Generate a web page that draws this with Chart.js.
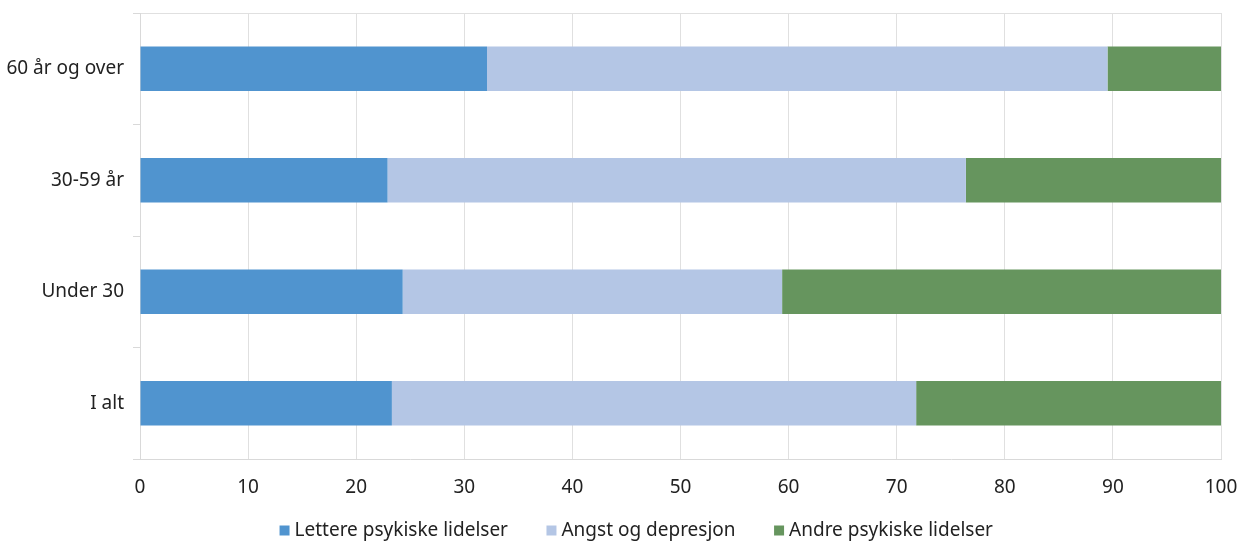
<!DOCTYPE html>
<html>
<head>
<meta charset="utf-8">
<script src="https://cdn.jsdelivr.net/npm/chart.js@4.4.1/dist/chart.umd.min.js"></script>
<style>
  html, body { margin: 0; padding: 0; background: #ffffff; }
  #wrap { width: 1239px; height: 543px; }
</style>
</head>
<body>
<div id="wrap"><canvas id="c" width="1239" height="543"></canvas></div>
<script>
const categories = ['60 år og over', '30-59 år', 'Under 30', 'I alt'];
const seriesNames = ['Lettere psykiske lidelser', 'Angst og depresjon', 'Andre psykiske lidelser'];
const lettere = [32.1, 22.9, 24.3, 23.3];
const angst = [57.4, 53.5, 35.1, 48.5];
const andre = [10.5, 23.6, 40.6, 28.2];
const xTicks = [0, 10, 20, 30, 40, 50, 60, 70, 80, 90, 100];

const colors = ['#5094cf', '#b4c6e5', '#66955e'];
const FONT = 'Noto Sans';

const LEGEND_H = 40;
const LEGEND_SHIFT = 19;
const LEGEND_TOP = 478;

const legendTweak = {
  id: 'legendTweak',
  beforeLayout(chart) {
    const lg = chart.legend;
    if (lg && !lg._tweaked) {
      lg._tweaked = true;
      const origFit = lg.fit;
      lg.fit = function () { origFit.call(this); this.height = LEGEND_H; };
    }
  },
  afterLayout(chart) {
    const lg = chart.legend;
    if (lg) {
      lg.left += LEGEND_SHIFT; lg.right += LEGEND_SHIFT;
      lg.top = LEGEND_TOP; lg.bottom = chart.height;
    }
  }
};

const chart = new Chart(document.getElementById('c'), {
  type: 'bar',
  data: {
    labels: categories,
    datasets: [
      { label: seriesNames[0], data: lettere, backgroundColor: colors[0] },
      { label: seriesNames[1], data: angst, backgroundColor: colors[1] },
      { label: seriesNames[2], data: andre, backgroundColor: colors[2] }
    ]
  },
  plugins: [legendTweak],
  options: {
    indexAxis: 'y',
    responsive: false,
    animation: false,
    layout: { padding: { top: 13, right: 0, bottom: 0, left: 0 } },
    datasets: { bar: { categoryPercentage: 1.0, barPercentage: 0.4, borderWidth: 0 } },
    scales: {
      x: {
        stacked: true,
        min: 0,
        max: 100,
        afterBuildTicks: (s) => { s.ticks = xTicks.map(v => ({ value: v })); },
        afterFit: (s) => { s.height = 44; s.paddingRight = 18; s.paddingLeft = 0; },
        border: { display: true, color: '#d9d9d9', width: 1 },
        grid: { color: '#e0e0e0', lineWidth: 1, drawTicks: false },
        ticks: { color: '#222', font: { family: FONT, size: 19 }, padding: 17 }
      },
      y: {
        stacked: true,
        afterFit: (s) => { s.width = 140; s.paddingTop = 0; s.paddingBottom = 0; },
        border: { display: true, color: '#d9d9d9', width: 1 },
        grid: {
          offset: true,
          color: (ctx) => (ctx.index === 0 ? '#e0e0e0' : 'rgba(0,0,0,0)'),
          tickColor: '#d9d9d9',
          tickLength: 7,
          drawTicks: true
        },
        ticks: { color: '#222', font: { family: FONT, size: 19 }, padding: 9 }
      }
    },
    plugins: {
      legend: {
        position: 'bottom',
        labels: {
          color: '#222',
          font: { family: FONT, size: 19 },
          usePointStyle: true,
          pointStyle: 'rect',
          boxWidth: 1,
          boxHeight: 10,
          padding: 43
        }
      },
      tooltip: { enabled: false }
    }
  }
});
</script>
</body>
</html>
